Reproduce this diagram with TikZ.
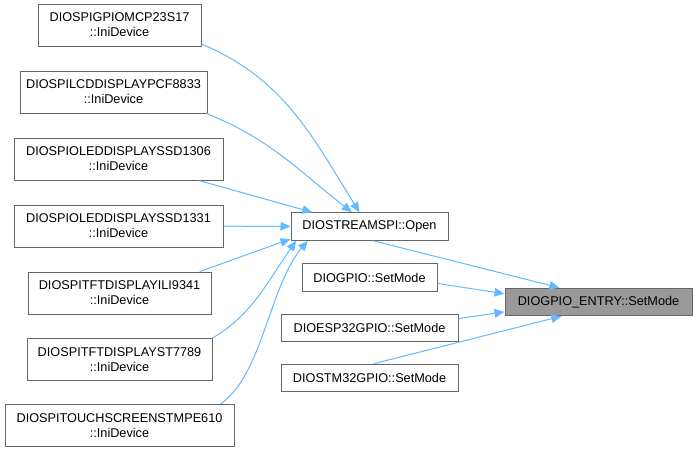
\documentclass[tikz,border=0pt]{standalone}
\usepackage{fontspec}
\setmainfont{Liberation Sans}
\usepackage{xcolor}
\usetikzlibrary{arrows.meta,positioning}

\definecolor{edgeblue}{HTML}{63B8FF}
\definecolor{boxline}{HTML}{666666}
\definecolor{boxfill}{HTML}{999999}

\begin{document}
\begin{tikzpicture}[
  x=1pt,y=1pt,
  box/.style={draw=boxline,fill=white,rectangle,inner sep=0pt,minimum height=42pt,align=center,line width=1pt,font=\fontsize{12.7}{15}\selectfont},
  onebox/.style={box,minimum height=27.5pt},
  arr/.style={-{Triangle[length=10pt,width=8.5pt]},draw=edgeblue,line width=1pt}
]
\useasboundingbox (0,0) rectangle (697,-453);

\node[box,minimum width=163pt] (mcp) at (119.5,-25) {DIOSPIGPIOMCP23S17\\::IniDevice};
\node[box,minimum width=187pt] (pcf) at (113.5,-92) {DIOSPILCDDISPLAYPCF8833\\::IniDevice};
\node[box,minimum width=209pt] (ssdA) at (118.5,-159) {DIOSPIOLEDDISPLAYSSD1306\\::IniDevice};
\node[box,minimum width=209pt] (ssdB) at (118.5,-226) {DIOSPIOLEDDISPLAYSSD1331\\::IniDevice};
\node[box,minimum width=183pt] (ili) at (119.5,-293) {DIOSPITFTDISPLAYILI9341\\::IniDevice};
\node[box,minimum width=185pt] (st) at (119.5,-359.5) {DIOSPITFTDISPLAYST7789\\::IniDevice};
\node[box,minimum width=229pt] (touch) at (119.5,-425.5) {DIOSPITOUCHSCREENSTMPE610\\::IniDevice};

\node[onebox,minimum width=157pt] (open) at (369.5,-226.5) {DIOSTREAMSPI::Open};
\node[onebox,minimum width=135pt] (gpio) at (369.5,-277.5) {DIOGPIO::SetMode};
\node[onebox,minimum width=177pt] (esp) at (369.5,-328) {DIOESP32GPIO::SetMode};
\node[onebox,minimum width=177pt] (stm) at (369.5,-378) {DIOSTM32GPIO::SetMode};
\node[onebox,minimum width=187pt,fill=boxfill] (entry) at (598.5,-302) {DIOGPIO\_ENTRY::SetMode};

\draw[arr] (mcp.-13) to[out=-23,in=122] (open.125);
\draw[arr] (pcf.-13) to[out=-22,in=142] (open.141);
\draw[arr] (ssdA.-15) -- (open.166);
\draw[arr] (ssdB) -- (open);
\draw[arr] (ili.15) -- (open.-171);
\draw[arr] (st.north east) to[out=30,in=-125,out distance=45pt,in distance=50pt] (open.-169);
\draw[arr] (touch.12) to[out=35,in=-130,out distance=51pt,in distance=60pt] (open.-167);

\draw[arr] (open.-75) -- (entry.160);
\draw[arr] (gpio.-5) -- (entry.175);
\draw[arr] (esp.6) -- (entry.-174);
\draw[arr] (stm.74) -- (entry.-159);

\end{tikzpicture}
\end{document}
